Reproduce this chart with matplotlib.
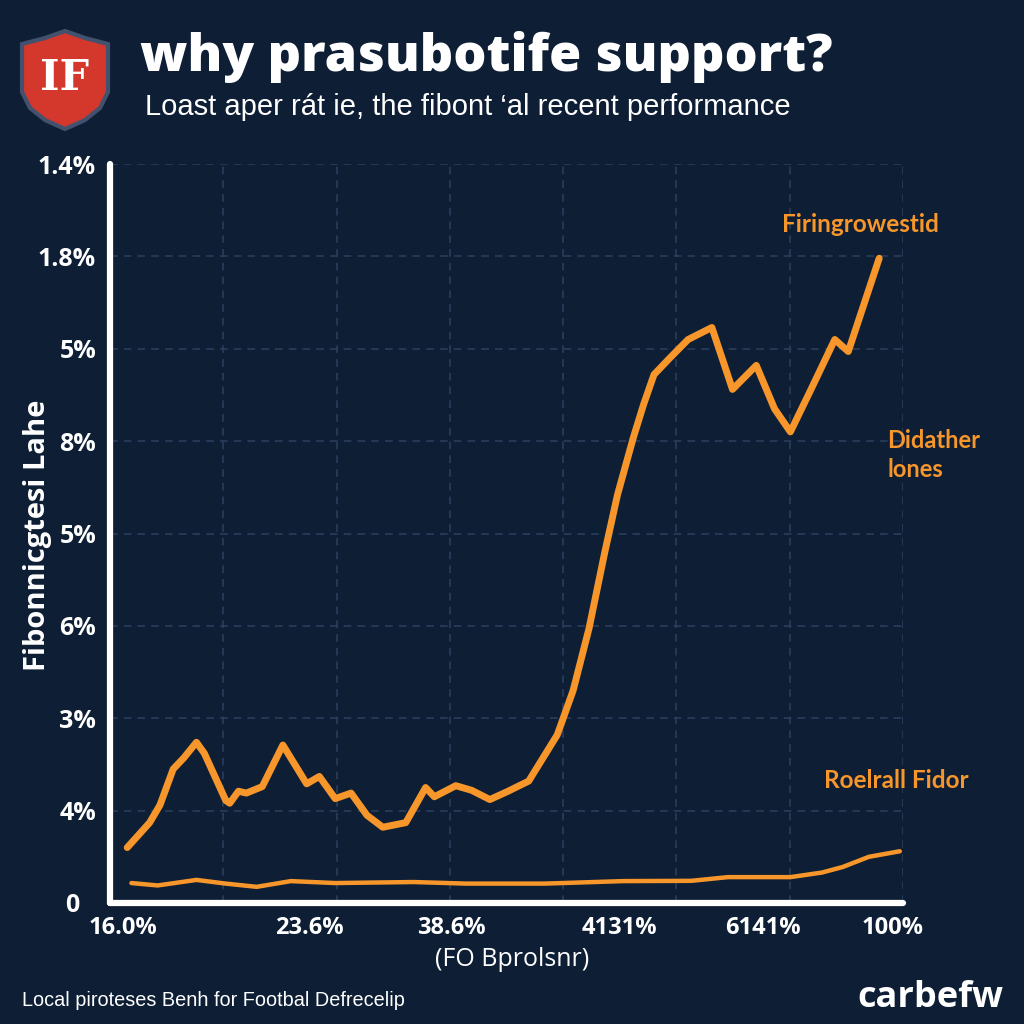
import matplotlib
matplotlib.use("Agg")
import matplotlib.pyplot as plt
from matplotlib.patches import Polygon
import matplotlib.transforms as mtransforms

# ---- data ----
main_x = [2.17, 5.0, 6.3, 7.97, 9.3, 10.9, 11.9, 14.6, 15.1, 16.2, 17.2, 19.2, 21.8, 22.8,
          24.8, 26.4, 28.4, 30.4, 32.4, 34.4, 37.3, 39.8, 40.9, 43.6, 45.6, 47.9, 50.2,
          52.8, 56.4, 58.4, 60.4, 62.4, 64.0, 66.0, 67.3, 68.6, 70.6, 72.9, 75.9, 78.5,
          81.5, 83.8, 85.8, 88.4, 91.4, 93.1, 97.0]
main_y = [0.60, 0.87, 1.06, 1.45, 1.57, 1.74, 1.62, 1.11, 1.08, 1.21, 1.19, 1.26, 1.71, 1.57,
          1.29, 1.37, 1.13, 1.19, 0.95, 0.82, 0.87, 1.25, 1.15, 1.27, 1.22, 1.12, 1.21,
          1.32, 1.82, 2.30, 2.97, 3.80, 4.42, 5.04, 5.40, 5.72, 5.90, 6.10, 6.23, 5.56,
          5.82, 5.35, 5.10, 5.56, 6.10, 5.97, 6.98]
low_x = [2.7, 6.0, 10.9, 14.6, 18.5, 22.8, 28.4, 38.3, 44.9, 54.8, 64.7, 73.3, 77.9,
         85.8, 89.8, 92.4, 95.7, 99.6]
low_y = [0.216, 0.19, 0.25, 0.21, 0.175, 0.237, 0.216, 0.227, 0.21, 0.21, 0.237, 0.24,
         0.28, 0.28, 0.33, 0.39, 0.50, 0.56]
y_ticks = [0, 1, 2, 3, 4, 5, 6, 7, 8]
y_labels = ["0", "4%", "3%", "6%", "5%", "8%", "5%", "1.8%", "1.4%"]
x_ticks = [1.6, 25.1, 43.0, 64.3, 82.3, 98.7]
x_labels = ["16.0%", "23.6%", "38.6%", "4131%", "6141%", "100%"]
x_grid = [100 * k / 7 for k in range(1, 8)]

BG = "#0d1e35"
ORANGE = "#f7962a"
GRID = "#2c4060"

fig = plt.figure(figsize=(10.24, 10.24), dpi=100, facecolor=BG)
W = H = 1024.0

def fx(x): return x / W
def fy(y): return 1 - y / H

ax = fig.add_axes([fx(110), fy(903), (903 - 110) / W, (903 - 164) / H])
ax.set_facecolor(BG)
ax.set_xlim(0, 100)
ax.set_ylim(0, 8)

for g in x_grid:
    ax.axvline(g, color=GRID, lw=1.1, dashes=(5, 4), zorder=1)
for g in y_ticks[1:]:
    ax.axhline(g, color=GRID, lw=1.1, dashes=(5, 4), zorder=1)

ax.plot(low_x, low_y, color=ORANGE, lw=3.2, solid_capstyle="round",
        solid_joinstyle="round", zorder=3)
ax.plot(main_x, main_y, color=ORANGE, lw=5, solid_capstyle="round",
        solid_joinstyle="round", zorder=4)

for s in ["top", "right"]:
    ax.spines[s].set_visible(False)
for s in ["left", "bottom"]:
    ax.spines[s].set_color("white")
    ax.spines[s].set_linewidth(4.5)
    ax.spines[s].set_capstyle("round")

ax.set_yticks(y_ticks)
ax.set_yticklabels(y_labels, fontsize=18, fontweight="bold", color="white",
                   family="Open Sans")
ax.set_xticks(x_ticks)
ax.set_xticklabels(x_labels, fontsize=17, fontweight="bold", color="white",
                   family="Open Sans")
ax.tick_params(axis="both", length=0)
ax.tick_params(axis="y", pad=10)
ax.tick_params(axis="x", pad=9)

# shift the "0" label slightly left (as in the reference)
zero_lbl = ax.get_yticklabels()[0]
zero_lbl.set_transform(zero_lbl.get_transform() +
                       mtransforms.ScaledTranslation(-0.17, 0, fig.dpi_scale_trans))

fig.text(fx(38), fy(535), "Fibonnicgtesi Lahe", rotation=90, fontsize=21,
         fontweight="bold", color="white", family="Open Sans", ha="center", va="center")
fig.text(fx(512), fy(960), "(FO Bprolsnr)", fontsize=18, color="white",
         family="Open Sans", ha="center", va="center")

# annotations
ax.text(94.6, 7.35, "Firingrowestid", color=ORANGE, fontsize=17.5, family="Lato",
        fontweight="bold", ha="center", va="center", clip_on=False)
ax.text(98, 4.85, "Didather\nlones", color=ORANGE, fontsize=17, family="Lato",
        fontweight="bold", ha="left", va="center", linespacing=1.35, clip_on=False)
ax.text(90, 1.33, "Roelrall Fidor", color=ORANGE, fontsize=17.5, family="Lato",
        fontweight="bold", ha="left", va="center", clip_on=False)

# title & subtitle
fig.text(fx(140), fy(57), "why prasubotife support?", color="white", fontsize=37.5,
         fontweight="heavy", family="Open Sans", ha="left", va="center")
fig.text(fx(145), fy(107), "Loast aper rát ie, the fibont \u2018al recent performance",
         color="white", fontsize=21, family="Liberation Sans", ha="left", va="center")

# shield logo
shield = [(22, 44), (45, 38), (65, 31), (85, 38), (108, 44), (108, 92), (100, 108),
          (85, 120), (65, 129), (45, 120), (30, 108), (22, 92)]
poly = Polygon([(fx(x), fy(y)) for x, y in shield], closed=True, transform=fig.transFigure,
               facecolor="#d4372c", edgecolor="#42526e", lw=3, zorder=5)
fig.patches.append(poly)
fig.text(fx(65), fy(78), "IF", color="white", fontsize=30, fontweight="bold",
         family="DejaVu Serif", ha="center", va="center", zorder=6)

# footer
fig.text(fx(22), fy(1000), "Local piroteses Benh for Footbal Defrecelip", color="white",
         fontsize=14.3, family="Liberation Sans", ha="left", va="center")
fig.text(fx(1003), fy(998), "carbefw", color="white", fontsize=26, fontweight="bold",
         family="Open Sans", ha="right", va="center")

fig.savefig("out.png", dpi=100, facecolor=BG)
